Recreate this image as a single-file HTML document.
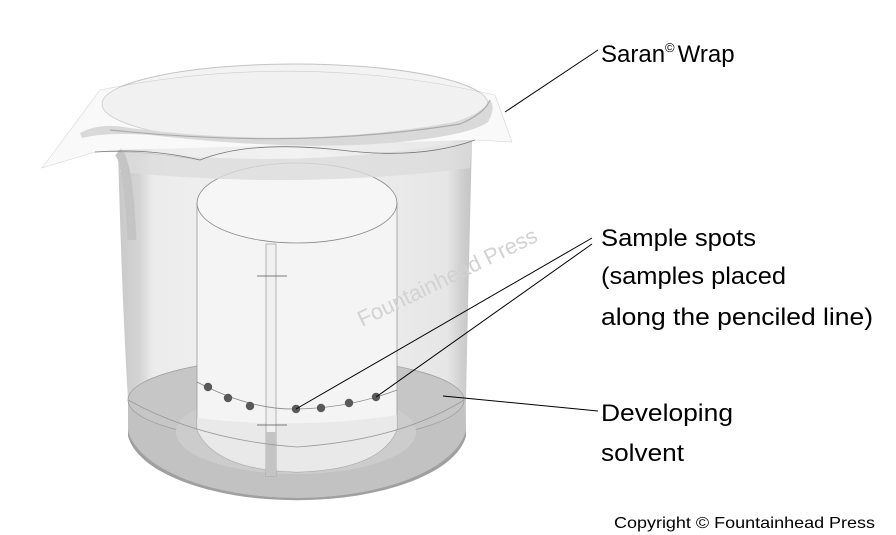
<!DOCTYPE html>
<html><head><meta charset="utf-8"><style>
html,body{margin:0;padding:0;background:#fff;width:896px;height:535px;overflow:hidden}
svg{display:block}
text{font-family:"Liberation Sans",sans-serif}
</style></head><body>
<svg width="896" height="535" viewBox="0 0 896 535" xmlns="http://www.w3.org/2000/svg">
<defs>
<linearGradient id="body" x1="0" x2="1" y1="0" y2="0">
<stop offset="0" stop-color="#c8c8c8"/><stop offset="0.06" stop-color="#d4d4d4"/><stop offset="0.1" stop-color="#ececec"/><stop offset="0.5" stop-color="#f2f2f2"/><stop offset="0.93" stop-color="#e6e6e6"/><stop offset="0.97" stop-color="#d0d0d0"/><stop offset="1" stop-color="#c4c4c4"/>
</linearGradient>
</defs>
<path d="M118 150 Q122 300 128 400 L128 430 A170 76 0 0 0 466 430 L466 400 Q468 300 472 140 Z" fill="url(#body)"/>
<path d="M128 400 A168 42 0 0 1 464 400 L466 430 A170 76 0 0 1 128 430 Z" fill="#c2c2c2"/>
<ellipse cx="296" cy="400" rx="168" ry="42" fill="#c6c6c6" stroke="#a0a0a0" stroke-width="0.8"/>
<path d="M128 430 A170 76 0 0 0 466 430 L466 436 A170 72 0 0 1 128 436Z" fill="#a0a0a0"/>
<ellipse cx="296" cy="432" rx="120" ry="42" fill="#cccccc"/>
<path d="M197 203 L197 430 Q215 470 297 472 Q380 470 397 430 L397 203 Z" fill="#f4f4f4" stroke="#999" stroke-width="0.8"/>
<path d="M197 430 Q215 470 297 472 Q380 470 397 430 L397 415 A200 50 0 0 1 197 418Z" fill="#e6e6e6" opacity="0.8"/>
<ellipse cx="297" cy="203" rx="100" ry="40" fill="#f6f6f6" stroke="#888" stroke-width="0.8"/>
<rect x="266" y="244" width="10" height="232" fill="#f0f0f0" stroke="#999" stroke-width="0.7"/>
<rect x="266" y="432" width="10" height="44" fill="#c4c4c4"/>
<line x1="257" y1="276" x2="287" y2="276" stroke="#555" stroke-width="0.8"/>
<line x1="257" y1="425" x2="287" y2="425" stroke="#555" stroke-width="0.8"/>
<path d="M197 382 Q250 410 297 409 Q350 408 397 390" fill="none" stroke="#888" stroke-width="0.8"/>
<path d="M128 400 Q200 440 297 447 Q400 440 464 400" fill="none" stroke="#999" stroke-width="0.8"/>
<g fill="#595959">
<circle cx="208" cy="387" r="4.2"/><circle cx="228" cy="398" r="4.2"/><circle cx="250" cy="406" r="4.2"/><circle cx="296" cy="409" r="4.2"/><circle cx="321" cy="408" r="4.2"/><circle cx="349" cy="403" r="4.2"/><circle cx="376" cy="397" r="4.2"/>
</g>
<path d="M120 150 Q300 172 472 140 L470 168 Q300 190 120 172Z" fill="#dcdcdc" opacity="0.8"/>
<path d="M118 152 Q128 160 132 240" stroke="#c4c4c4" stroke-width="9" fill="none"/>
<ellipse cx="295" cy="104" rx="193" ry="40" fill="#f3f3f3" stroke="#c4c4c4" stroke-width="1"/>
<path d="M80 133 Q100 122 130 128 Q300 150 455 122 Q485 112 490 100 Q496 108 488 122 Q470 135 400 142 Q300 152 150 135 Q105 132 82 138Z" fill="#cfcfcf"/>
<path d="M110 130 Q300 150 460 124 Q484 114 490 100" fill="none" stroke="#888" stroke-width="1.2"/>
<path d="M42 168 L100 90 Q300 50 495 95 L512 142 L475 140 Q420 160 340 150 Q250 140 200 160 Q140 150 95 152 Z" fill="#eeeeee" opacity="0.35" stroke="#888" stroke-width="0.6"/>
<path d="M95 152 Q150 148 200 160 Q250 140 340 150 Q420 160 475 140" fill="none" stroke="#777" stroke-width="0.8"/>
<text x="0" y="0" font-size="22" fill="#d2d2d2" transform="translate(362,327) rotate(-26)">Fountainhead Press</text>
<g stroke="#000" stroke-width="1">
<line x1="505" y1="112" x2="598" y2="50"/>
<line x1="296" y1="409" x2="592" y2="238"/>
<line x1="376" y1="397" x2="592" y2="244"/>
<line x1="443" y1="396" x2="598" y2="411"/>
</g>
<g font-size="24" fill="#000" lengthAdjust="spacingAndGlyphs">
<text x="601" y="62">Saran<tspan font-size="13" dy="-10">©</tspan><tspan dy="10" dx="3">Wrap</tspan></text>
<text x="601" y="246" textLength="155" lengthAdjust="spacingAndGlyphs">Sample spots</text>
<text x="601" y="284" textLength="185" lengthAdjust="spacingAndGlyphs">(samples placed</text>
<text x="601" y="325" textLength="272" lengthAdjust="spacingAndGlyphs">along the penciled line)</text>
<text x="601" y="421" textLength="132" lengthAdjust="spacingAndGlyphs">Developing</text>
<text x="601" y="461" textLength="83" lengthAdjust="spacingAndGlyphs">solvent</text>
</g>
<text x="614" y="528" font-size="16" fill="#000" textLength="261" lengthAdjust="spacingAndGlyphs">Copyright © Fountainhead Press</text>
</svg>
</body></html>
